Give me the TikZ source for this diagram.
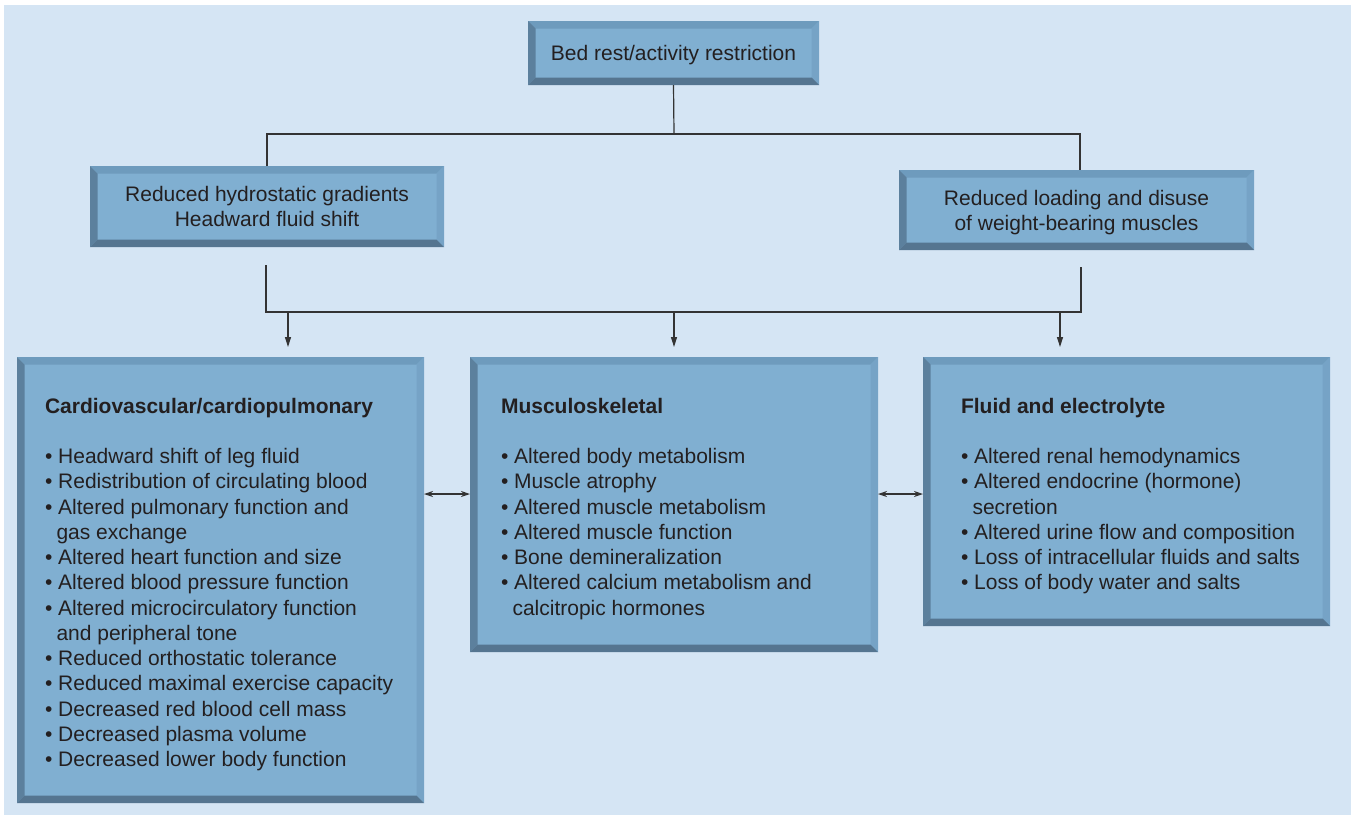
\documentclass[tikz,border=0pt]{standalone}
\usepackage{fontspec}
\setmainfont{Liberation Sans}
\usetikzlibrary{arrows.meta}
\definecolor{bg}{HTML}{D5E5F4}
\definecolor{face}{HTML}{80AFD1}
\definecolor{btop}{HTML}{6E9BBD}
\definecolor{bright}{HTML}{76A3C6}
\definecolor{bleft}{HTML}{5C809D}
\definecolor{bbot}{HTML}{557590}
\definecolor{ink}{HTML}{231F20}
\definecolor{wire}{HTML}{333333}
\newcommand\bevelframe[1]{%
  \fill[btop] (#1.north west) -- (#1.north east) -- ([shift={(-7.5pt,-7.5pt)}]#1.north east) -- ([shift={(7.5pt,-7.5pt)}]#1.north west) -- cycle;
  \fill[bright] (#1.north east) -- (#1.south east) -- ([shift={(-7.5pt,7.5pt)}]#1.south east) -- ([shift={(-7.5pt,-7.5pt)}]#1.north east) -- cycle;
  \fill[bleft] (#1.north west) -- (#1.south west) -- ([shift={(7.5pt,7.5pt)}]#1.south west) -- ([shift={(7.5pt,-7.5pt)}]#1.north west) -- cycle;
  \fill[bbot] (#1.south west) -- (#1.south east) -- ([shift={(-7.5pt,7.5pt)}]#1.south east) -- ([shift={(7.5pt,7.5pt)}]#1.south west) -- cycle;}
\newcommand\itm{\textbullet\ }
\newcommand\cnt{\hspace*{11.5pt}}
\begin{document}
\begin{tikzpicture}[x=1pt,y=-1pt,
  bevbox/.style={rectangle,fill=face,inner sep=0pt,outer sep=0pt,text=ink,
    font=\fontsize{21pt}{25pt}\selectfont,align=center},
  listtext/.style={anchor=north west,inner sep=0pt,outer sep=0pt,text=ink,align=left,
    font=\fontsize{21pt}{25.25pt}\selectfont},
  wireline/.style={draw=wire,line width=1.2pt},
  downarr/.style={wireline,-{Triangle[length=10pt,width=6pt]},shorten >=10pt},
  twoarr/.style={wireline,{Stealth[length=9pt,width=6pt]}-{Stealth[length=9pt,width=6pt]}}]
\useasboundingbox (0,0) rectangle (1351,815);
\fill[white] (0,0) rectangle (1351,815);
\fill[bg] (4,5) rectangle (1351,815);

% boxes
\node[bevbox,minimum width=291pt,minimum height=64pt,text depth=0pt] (top) at (673.5,53) {Bed rest/activity restriction};
\bevelframe{top}
\node[bevbox,minimum width=354pt,minimum height=81pt] (lmid) at (267,206.5) {Reduced hydrostatic gradients\\Headward fluid shift};
\bevelframe{lmid}
\node[bevbox,minimum width=355pt,minimum height=80pt,text depth=0pt] (rmid) at (1076.5,210) {Reduced loading and disuse\\of weight-bearing muscles};
\bevelframe{rmid}
\node[bevbox,minimum width=407pt,minimum height=446pt] (cv) at (220.5,580) {};
\bevelframe{cv}
\node[bevbox,minimum width=408pt,minimum height=295pt] (mu) at (674,504.5) {};
\bevelframe{mu}
\node[bevbox,minimum width=407pt,minimum height=269pt] (fe) at (1126.5,491.5) {};
\bevelframe{fe}

% texts
\node[listtext] (cvtext) at (45,398) {\textbf{Cardiovascular/cardiopulmonary}\\[25.25pt]
\itm Headward shift of leg fluid\\
\itm Redistribution of circulating blood\\
\itm Altered pulmonary function and\\
\cnt gas exchange\\
\itm Altered heart function and size\\
\itm Altered blood pressure function\\
\itm Altered microcirculatory function\\
\cnt and peripheral tone\\
\itm Reduced orthostatic tolerance\\
\itm Reduced maximal exercise capacity\\
\itm Decreased red blood cell mass\\
\itm Decreased plasma volume\\
\itm Decreased lower body function};
\node[listtext] (mutext) at (501,398) {\textbf{Musculoskeletal}\\[25.25pt]
\itm Altered body metabolism\\
\itm Muscle atrophy\\
\itm Altered muscle metabolism\\
\itm Altered muscle function\\
\itm Bone demineralization\\
\itm Altered calcium metabolism and\\
\cnt calcitropic hormones};
\node[listtext] (fetext) at (961,398) {\textbf{Fluid and electrolyte}\\[25.25pt]
\itm Altered renal hemodynamics\\
\itm Altered endocrine (hormone)\\
\cnt secretion\\
\itm Altered urine flow and composition\\
\itm Loss of intracellular fluids and salts\\
\itm Loss of body water and salts};

% connectors
\coordinate (j1) at (674,134);
\draw[wireline] (top.south) -- (j1);
\draw[wireline] (lmid.north) |- (j1) -| ([xshift=3.5pt]rmid.north);
\coordinate (ls) at (266,265);
\coordinate (rs) at (1081,267);
\coordinate (hl) at (266,312);
\coordinate (hr) at (1081,312);
\draw[wireline] (ls) -- (hl) -- (hr) -- (rs);
\coordinate (d1) at (288,312);
\coordinate (d2) at (674,312);
\coordinate (d3) at (1060,312);
\draw[downarr] (d1) -- (d1 |- cv.north);
\draw[downarr] (d2) -- (d2 |- mu.north);
\draw[downarr] (d3) -- (d3 |- fe.north);
\coordinate (hy) at (0,494);
\draw[twoarr] (cv.east |- hy) -- (mu.west |- hy);
\draw[twoarr] (mu.east |- hy) -- (fe.west |- hy);
\end{tikzpicture}
\end{document}
